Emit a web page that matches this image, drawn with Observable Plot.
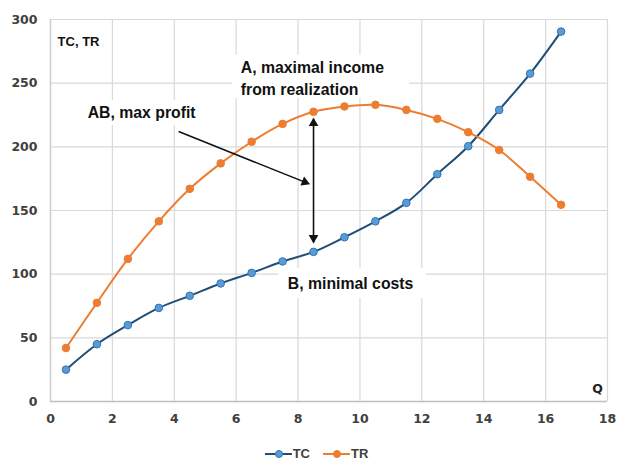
<!DOCTYPE html>
<html><head><meta charset="utf-8">
<script src="https://cdn.jsdelivr.net/npm/d3@7"></script>
<script src="https://cdn.jsdelivr.net/npm/@observablehq/plot@0.6"></script>
<style>
body{margin:0;background:#fff;font-family:"Liberation Sans",Arial,sans-serif;}
#legend{display:flex;justify-content:center;gap:13px;font:bold 13px "Liberation Sans",Arial,sans-serif;color:#404040;margin-top:8px;padding-left:16px;}
#legend span{display:flex;align-items:center;gap:1px;}
</style></head>
<body><div id="chart"></div><div id="legend"></div>
<script>
const q = [0.5,1.5,2.5,3.5,4.5,5.5,6.5,7.5,8.5,9.5,10.5,11.5,12.5,13.5,14.5,15.5,16.5];
const tc = [25,45,60,73.5,83,92.7,101,110,117.5,129,141.5,156,178.5,200.5,229,257.5,290.5];
const tr = [42,77.5,112,141.5,167,187,204,218,227.5,231.7,233,229,222,211.5,197.5,176.5,154.5];
const seriesNames = ["TC","TR"];
const lineColors = ["#1f4e79","#ed7d31"];
const dotFills = ["#5b9bd5","#ed7d31"];
const xTicks = [0,2,4,6,8,10,12,14,16,18];
const yTicks = [0,50,100,150,200,250,300];

// annotations (data coordinates)
const boxes = [
  {x1:5.89,x2:11.6,y1:238,y2:272},
  {x1:0.97,x2:5.0,y1:216.8,y2:236.4},
  {x1:7.38,x2:12.14,y1:80.9,y2:104.5}
];
const labels = [
  {x:0.23,y:282.8,text:"TC, TR",size:13},
  {x:6.15,y:261.6,text:"A, maximal income",size:15.8},
  {x:6.15,y:244.3,text:"from realization",size:15.8},
  {x:1.2,y:227,text:"AB, max profit",size:15.8},
  {x:7.67,y:92.7,text:"B, minimal costs",size:15.8}
];
const qLabel = [{x:17.68,y:10,text:"Q"}];
const arrowLines = [
  {x1:4.14,y1:212,x2:8.3,y2:171.5},
  {x1:8.5,y1:125,x2:8.5,y2:222}
];
const arrowHeads = [
  {x:8.22,y:172.3,rot:112},
  {x:8.5,y:218.5,rot:0},
  {x:8.5,y:128.5,rot:180}
];

const data = [];
q.forEach((v,i)=>{ data.push({q:v,val:tc[i],s:"TC"}); data.push({q:v,val:tr[i],s:"TR"}); });

const tickFont = {fontFamily:"'DejaVu Sans', sans-serif", fontSize:12.5, fontWeight:"bold", fill:"#404040"};

const chart = Plot.plot({
  width:617, height:438,
  marginLeft:50, marginRight:10, marginTop:19, marginBottom:37,
  style:{background:"#fff"},
  x:{domain:[0,18]},
  y:{domain:[0,300]},
  color:{domain:seriesNames, range:lineColors},
  marks:[
    Plot.gridX(xTicks,{stroke:"#d9d9d9",strokeOpacity:1,strokeWidth:1.2}),
    Plot.gridY(yTicks,{stroke:"#d9d9d9",strokeOpacity:1,strokeWidth:1.2}),
    Plot.ruleY([0],{stroke:"#bfbfbf",strokeWidth:1.5}),
    Plot.ruleX([0],{stroke:"#d0d0d0",strokeWidth:1.5}),
    Plot.axisX(xTicks,{tickSize:0, tickPadding:13, label:null, ...tickFont}),
    Plot.axisY(yTicks,{tickSize:0, tickPadding:13, label:null, ...tickFont}),
    Plot.rect(boxes,{x1:"x1",x2:"x2",y1:"y1",y2:"y2",fill:"white"}),
    Plot.line(data,{x:"q",y:"val",z:"s",stroke:"s",strokeWidth:2,curve:"catmull-rom"}),
    Plot.dot(data,{x:"q",y:"val",r:3.8,fill:d=>d.s==="TC"?dotFills[0]:dotFills[1],stroke:d=>d.s==="TC"?"#2e75b6":"#ed7d31",strokeWidth:1}),
    Plot.link(arrowLines,{x1:"x1",y1:"y1",x2:"x2",y2:"y2",stroke:"#111",strokeWidth:1.6}),
    Plot.dot(arrowHeads,{x:"x",y:"y",symbol:"triangle",r:3.6,fill:"#111",stroke:"none",rotate:"rot"}),
    Plot.text(labels,{x:"x",y:"y",text:"text",fontSize:"size",textAnchor:"start",fill:"#111",fontWeight:"bold",fontFamily:"'Liberation Sans', Arial, sans-serif"}),
    Plot.text(qLabel,{x:"x",y:"y",text:"text",fontSize:12.5,fill:"#222",fontWeight:"bold",fontFamily:"'DejaVu Sans', sans-serif"})
  ]
});
document.getElementById("chart").appendChild(chart);

const leg = document.getElementById("legend");
seriesNames.forEach((n,i)=>{
  const s = document.createElement("span");
  s.innerHTML = `<svg width="27" height="12"><line x1="0" y1="6" x2="27" y2="6" stroke="${lineColors[i]}" stroke-width="2"/><circle cx="14" cy="6" r="3.5" fill="${dotFills[i]}" stroke="${i===0?'#2e75b6':'#ed7d31'}"/></svg>${n}`;
  leg.appendChild(s);
});
</script></body></html>
